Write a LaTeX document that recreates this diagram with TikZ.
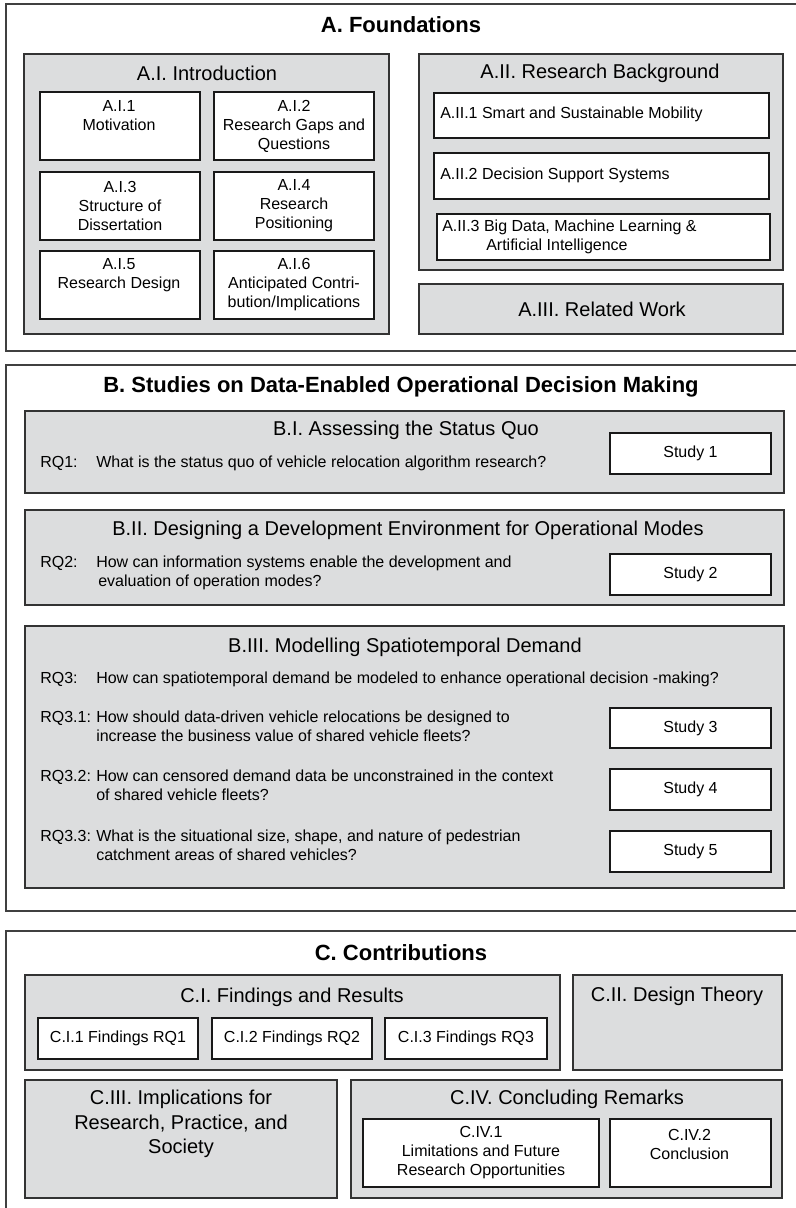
\documentclass[tikz,border=0pt]{standalone}
\usepackage{fontspec}
\setmainfont{Liberation Sans}
\usetikzlibrary{arrows.meta}

\definecolor{groupgray}{RGB}{220,221,222}
\newcommand{\bodyfont}{\fontsize{12}{14.25}\selectfont}
\newcommand{\titlefont}{\fontsize{15}{18.4}\selectfont}
\newcommand{\headfont}{\fontsize{16.5}{20}\selectfont\bfseries}
\newenvironment{rqtab}{\begin{tabular}{@{}p{42pt}@{}l@{}}}{\end{tabular}}

\tikzset{
  sz/.style 2 args={minimum width=#1*0.75pt, minimum height=#2*0.75pt},
  frame/.style={draw=black!75, line width=1.3pt, anchor=north west, inner sep=0pt},
  group/.style={draw=black!80, fill=groupgray, line width=1.5pt, anchor=north west, inner sep=0pt},
  item/.style={draw=black!90, fill=white, line width=1.5pt, anchor=north west, inner sep=0pt, align=center, font=\bodyfont},
  head/.style={font=\headfont},
  title/.style={font=\titlefont, align=center},
  txt/.style={font=\bodyfont, align=left, anchor=west, inner sep=0pt},
}

\begin{document}
\begin{tikzpicture}[x=0.75pt, y=-0.75pt]
  \useasboundingbox (0,0) rectangle (796,1208);

  % A. Foundations
  \node[frame, sz={795}{347}] (fa) at (5,3) {};
  \node[head] (fatitle) at (401,25) {A. Foundations};

  % A.I
  \node[group, sz={365}{280}] (ai) at (23,53) {};
  \node[title] (aititle) at (207,73) {A.I. Introduction};
  \node[item, sz={160}{68}] (ai1) at (39,91) {};
  \node[font=\bodyfont, align=center] (ai1t) at (119,116) {A.I.1\\Motivation};
  \node[item, sz={160}{68}] (ai2) at (213,91) {A.I.2\\Research Gaps and\\Questions};
  \node[item, sz={160}{68}] (ai3) at (39,171) {A.I.3\\Structure of\\Dissertation};
  \node[item, sz={160}{68}] (ai4) at (213,171) {A.I.4\\Research\\Positioning};
  \node[item, sz={160}{68}] (ai5) at (39,250) {};
  \node[font=\bodyfont, align=center] (ai5t) at (119,275) {A.I.5\\Research Design};
  \node[item, sz={160}{68}] (ai6) at (213,250) {A.I.6\\Anticipated Contri-\\bution/Implications};

  % A.II
  \node[group, sz={364}{216}] (aii) at (418,53) {};
  \node[title] (aiititle) at (600,73) {A.II. Research Background};
  \node[item, sz={335}{45}] (aii1) at (433,92) {};
  \node[txt] (aii1t) at (440,114.5) {A.II.1 Smart and Sustainable Mobility};
  \node[item, sz={335}{46}] (aii2) at (433,152) {};
  \node[txt] (aii2t) at (440,175) {A.II.2 Decision Support Systems};
  \node[item, sz={333}{46}] (aii3) at (436,213) {};
  \node[txt] (aii3t) at (442,237) {A.II.3 Big Data, Machine Learning \&\\\hspace*{33pt}Artificial Intelligence};

  % A.III
  \node[group, sz={364}{50}] (aiii) at (418,283) {};
  \node[title] (aiiititle) at (602,309) {A.III. Related Work};

  % B. Studies
  \node[frame, sz={795}{546}] (fb) at (5,364) {};
  \node[head] (fbtitle) at (401,387) {B. Studies on Data-Enabled Operational Decision Making};

  % B.I
  \node[group, sz={759}{82}] (bi) at (24,410) {};
  \node[title] (bititle) at (406,430) {B.I. Assessing the Status Quo};
  \node[txt] (rq1) at (40,464) {\begin{rqtab}RQ1: & What is the status quo of vehicle relocation algorithm research?\end{rqtab}};
  \node[item, sz={161}{41}] (s1) at (609,432) {Study 1};

  % B.II
  \node[group, sz={759}{95}] (bii) at (24,509) {};
  \node[title] (biititle) at (408,530) {B.II. Designing a Development Environment for Operational Modes};
  \node[txt] (rq2) at (40,573.5) {\begin{rqtab}RQ2: & How can information systems enable the development and\\
    & \hspace*{1.5pt}evaluation of operation modes?\end{rqtab}};
  \node[item, sz={161}{41}] (s2) at (609,553) {Study 2};

  % B.III
  \node[group, sz={759}{262}] (biii) at (24,625) {};
  \node[title] (biiititle) at (405,647) {B.III. Modelling Spatiotemporal Demand};
  \node[txt] (rq3) at (40,680) {\begin{rqtab}RQ3: & How can spatiotemporal demand be modeled to enhance operational decision -making?\end{rqtab}};
  \node[txt] (rq31) at (40,728.5) {\begin{rqtab}RQ3.1: & How should data-driven vehicle relocations be designed to\\
    & increase the business value of shared vehicle fleets?\end{rqtab}};
  \node[item, sz={161}{40}] (s3) at (609,707) {Study 3};
  \node[txt] (rq32) at (40,787.5) {\begin{rqtab}RQ3.2: & How can censored demand data be unconstrained in the context\\
    & of shared vehicle fleets?\end{rqtab}};
  \node[item, sz={161}{41}] (s4) at (609,768) {Study 4};
  \node[txt] (rq33) at (40,847) {\begin{rqtab}RQ3.3: & What is the situational size, shape, and nature of pedestrian\\
    & catchment areas of shared vehicles?\end{rqtab}};
  \node[item, sz={161}{41}] (s5) at (609,830) {Study 5};

  % C. Contributions
  \node[frame, sz={795}{290}] (fc) at (5,930) {};
  \node[head] (fctitle) at (401,953) {C. Contributions};

  % C.I
  \node[group, sz={535}{95}] (ci) at (24,974) {};
  \node[title] (cititle) at (292,997) {C.I. Findings and Results};
  \node[item, sz={160}{41}] (ci1) at (37,1017) {C.I.1 Findings RQ1};
  \node[item, sz={160}{41}] (ci2) at (211,1017) {C.I.2 Findings RQ2};
  \node[item, sz={162}{41}] (ci3) at (384,1017) {C.I.3 Findings RQ3};

  % C.II
  \node[group, sz={209}{95}] (cii) at (572,974) {};
  \node[title] (ciititle) at (677,996) {C.II. Design Theory};

  % C.III
  \node[group, sz={312}{118}] (ciii) at (24,1079) {};
  \node[title] (ciiititle) at (181,1124) {C.III. Implications for\\Research, Practice, and\\Society};

  % C.IV
  \node[group, sz={431}{118}] (civ) at (350,1079) {};
  \node[title] (civtitle) at (567,1099) {C.IV. Concluding Remarks};
  \node[item, sz={236}{68}] (civ1) at (362,1118) {C.IV.1\\Limitations and Future\\Research Opportunities};
  \node[item, sz={161}{68}] (civ2) at (609,1118) {};
  \node[font=\bodyfont, align=center] (civ2t) at (689.5,1144) {C.IV.2\\Conclusion};
\end{tikzpicture}
\end{document}
